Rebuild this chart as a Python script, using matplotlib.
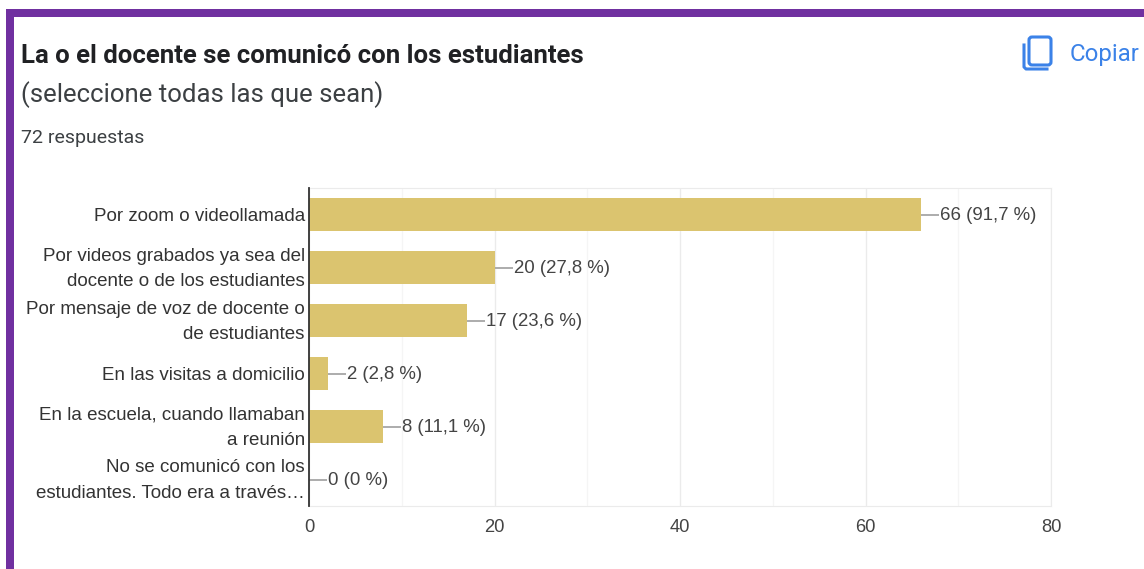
import matplotlib
matplotlib.use('Agg')
from matplotlib import pyplot as plt
from matplotlib.patches import Rectangle, FancyBboxPatch
from matplotlib.transforms import ScaledTranslation

categories = ['Por zoom o videollamada',
              'Por videos grabados ya sea del\ndocente o de los estudiantes',
              'Por mensaje de voz de docente o\nde estudiantes',
              'En las visitas a domicilio',
              'En la escuela, cuando llamaban\na reunión',
              'No se comunicó con los\nestudiantes. Todo era a través…']
counts = [66, 20, 17, 2, 8, 0]
percents = ['91,7', '27,8', '23,6', '2,8', '11,1', '0']
x_ticks = [0, 20, 40, 60, 80]
x_grid = [10, 30, 50, 70]

W, H = 1144, 569
plt.rcParams['font.family'] = ['Roboto', 'DejaVu Sans']
chart_font = ['Liberation Sans', 'DejaVu Sans']

fig = plt.figure(figsize=(W / 100, H / 100), dpi=100)

# page layer in pixel coordinates, y going down
page = fig.add_axes([0, 0, 1, 1])
page.set_xlim(0, W)
page.set_ylim(H, 0)
page.axis('off')
purple = '#7030a0'
page.add_patch(Rectangle((6, 9), W - 6, 8, color=purple, lw=0))
page.add_patch(Rectangle((6, 9), 8, H - 9, color=purple, lw=0))
page.text(21, 56, 'La o el docente se comunicó con los estudiantes', fontsize=18.5, fontweight='bold',
          color='#202124', va='center')
page.text(21, 94.5, '(seleccione todas las que sean)', fontsize=18.5, color='#3c4043', va='center')
page.text(21, 138, '72 respuestas', fontsize=14, color='#3c4043', va='center')

# copy icon
blue = '#3b82e8'
page.add_patch(FancyBboxPatch((1029, 37), 22, 28, boxstyle='round,pad=0,rounding_size=3',
                              fill=False, ec=blue, lw=2.2))
page.plot([1024, 1024, 1026, 1047], [45, 67, 69, 69], color=blue, lw=2.2)
page.text(1070, 54, 'Copiar', fontsize=17.3, color=blue, va='center')

# chart, placed on the pixel box of the reference
left, right, top, bottom = 309, 1051, 188, 506
ax = fig.add_axes([left / W, 1 - bottom / H, (right - left) / W, (bottom - top) / H])
ax.patch.set_alpha(0)
y = list(range(len(categories)))
ax.barh(y, counts, height=0.62, color='#dbc46f', zorder=2)
ax.set_xlim(0, 80)
ax.set_ylim(5.5, -0.5)

ax.set_xticks(x_ticks)
ax.set_xticks(x_grid, minor=True)
ax.grid(axis='x', which='major', color='#ebebeb', lw=1, zorder=0)
ax.grid(axis='x', which='minor', color='#f5f5f5', lw=1, zorder=0)
ax.tick_params(axis='both', which='both', length=0)
ax.tick_params(axis='x', labelsize=13.2, labelcolor='#444444', pad=9)
for lab in ax.get_xticklabels():
    lab.set_family(chart_font)
ax.set_yticks(y, categories, fontsize=13.5, color='#333333', linespacing=1.68, family=chart_font)
ax.tick_params(axis='y', pad=3)

# two-line labels sit a little high in the reference
for lab in ax.get_yticklabels():
    if '\n' in lab.get_text():
        lab.set_transform(lab.get_transform() + ScaledTranslation(0, 5 / 100, fig.dpi_scale_trans))

for side in ['top', 'right', 'bottom']:
    ax.spines[side].set_color('#ebebeb')
ax.spines['left'].set_color('#333333')
ax.spines['left'].set_linewidth(1.3)
ax.spines['left'].set_zorder(5)

# leader line and label on each bar
step = 80 / (right - left)
for yi, c, p in zip(y, counts, percents):
    ax.plot([c, c + 18 * step], [yi, yi], color='#a6a6a6', lw=1.3, zorder=3, solid_capstyle='butt')
    ax.text(c + 19 * step, yi + 0.02, '{0} ({1} %)'.format(c, p), fontsize=13.4, color='#444444', va='center',
            family=chart_font)

fig.savefig('out.png', dpi=100)
